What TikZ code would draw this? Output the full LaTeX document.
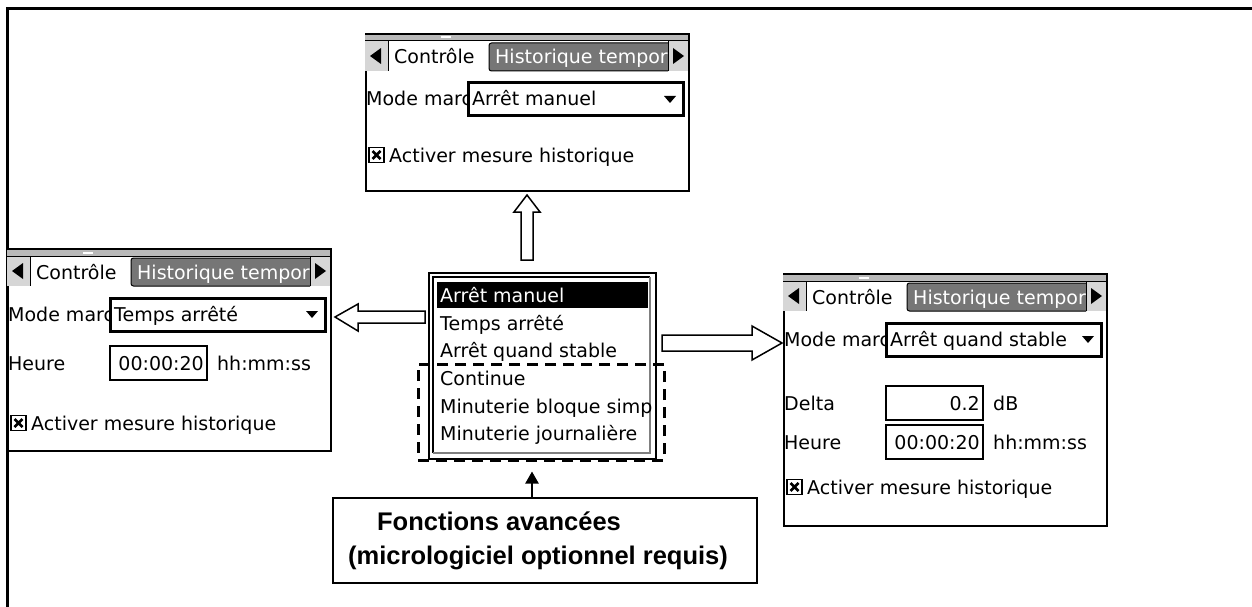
\documentclass[tikz,border=0pt]{standalone}
\usepackage{fontspec}
\newfontfamily\uifont{DejaVu Sans}
\newfontfamily\labfont{Liberation Sans}
\usetikzlibrary{arrows.meta,calc}
\definecolor{tabgray}{RGB}{118,118,118}
\definecolor{boxgray}{RGB}{214,214,214}
\tikzset{
  ui/.style={font=\uifont\fontsize{19}{22}\selectfont, inner sep=0pt, anchor=base west},
  uiw/.style={ui, text=white},
  blockarrow/.style={draw, fill=white, line width=1.5pt, line join=miter},
  lab/.style={font=\labfont\bfseries\fontsize{25.5}{30}\selectfont, inner sep=0pt, anchor=base},
}
% screen frame: #1 x, #2 y, #3 height, #4 name
\newcommand\uiscreen[4]{%
  \begin{scope}[shift={(#1,#2)}]
    \node[draw, line width=1.7pt, fill=white, minimum width=323pt, minimum height=#3pt, inner sep=0pt, anchor=north west] (#4) at (0,0) {};
    \fill[gray!55] (0,0) rectangle (323,8);
    \draw[line width=2.4pt] (0,1) -- (323,1);
    \draw[line width=1pt] (0,8) -- (323,8);
    \fill[white] (76,3.5) rectangle (86,5.5);
    \fill[boxgray] (0,8.5) rectangle (23,38);
    \draw[line width=1pt] (23,8.5) -- (23,38);
    \fill (5,23) -- (16,15) -- (16,31) -- cycle;
    \draw[line width=1pt, fill=tabgray, rounded corners=2.5pt] (303,10) -| (124,38) -- (303,38);
    \fill[boxgray] (303,8.5) rectangle (323,38);
    \draw[line width=1pt] (303,8.5) -- (303,38);
    \fill (319,23) -- (308,15) -- (308,31) -- cycle;
    \node[ui] (#4tab) at (29,31) {Contrôle};
    \begin{scope}
      \clip (124,10) rectangle (303,38);
      \node[uiw] (#4tabb) at (130,31) {Historique tempor};
    \end{scope}
  \end{scope}}
% dropdown: #1 x, #2 y (screen origin), #3 text, #4 name
\newcommand\uidrop[4]{%
  \begin{scope}[shift={(#1,#2)}]
    \node[ui] (#4mode) at (1,73) {Mode marc};
    \draw[line width=3pt, fill=white] (103,50) rectangle (318,83);
    \node[ui] (#4drop) at (107,73) {#3};
    \fill (299,63) -- (311,63) -- (305,70) -- cycle;
  \end{scope}}
% check line: #1 x, #2 y centre, #3 name
\newcommand\uicheck[3]{%
  \begin{scope}[shift={(#1,#2)}]
    \draw[line width=1.3pt] (4,-7.5) rectangle (19,7.5);
    \draw[line width=2.6pt] (7.5,-4) -- (15.5,4) (7.5,4) -- (15.5,-4);
    \node[ui] (#3) at (24,7) {Activer mesure historique};
  \end{scope}}
% field: #1 x, #2 y centre, #3 label, #4 value, #5 unit, #6 name
\newcommand\uifield[6]{%
  \begin{scope}[shift={(#1,#2)}]
    \node[ui] (#6l) at (1,7) {#3};
    \draw[line width=1.3pt] (103,-17) rectangle (200,17);
    \node[ui, anchor=base east] (#6v) at (197,7) {#4};
    \node[ui] (#6u) at (210,7) {#5};
  \end{scope}}

\begin{document}
\begin{tikzpicture}[x=1pt,y=-1pt]
\useasboundingbox (0,0) rectangle (1252,607);
\fill[white] (0,0) rectangle (1252,607);
\draw[line width=3pt] (7,607) -- (7,9) -- (1252,9);

% top screen
\uiscreen{365}{33}{157}{top}
\uidrop{365}{33}{Arrêt manuel}{top}
\uicheck{365}{155}{topchk}

% left screen
\uiscreen{7}{248}{202}{left}
\uidrop{7}{248}{Temps arrêté}{left}
\uifield{7}{363}{Heure}{00:00:20}{hh:mm:ss}{leftheure}
\uicheck{7}{423}{leftchk}

% right screen
\uiscreen{783}{273}{252}{right}
\uidrop{783}{273}{Arrêt quand stable}{right}
\uifield{783}{403}{Delta}{0.2}{dB}{rightdelta}
\uifield{783}{442}{Heure}{00:00:20}{hh:mm:ss}{rightheure}
\uicheck{783}{487}{rightchk}

% middle list
\node[draw, line width=1.6pt, fill=white, minimum width=227pt, minimum height=186pt, inner sep=0pt, anchor=north west] (list) at (428,272) {};
\draw[line width=1.3pt] (433,453) -- (433,277) -- (650,277);
\draw[line width=1.3pt, gray] (650,277) -- (650,453) -- (433,453);
\fill (437,282) rectangle (648,308);
\node[uiw] (i1) at (440,302) {Arrêt manuel};
\node[ui] (i2) at (440,330) {Temps arrêté};
\node[ui] (i3) at (440,357) {Arrêt quand stable};
\node[ui] (i4) at (440,385) {Continue};
\node[ui] (i5) at (440,413) {Minuterie bloque simp};
\node[ui] (i6) at (440,440) {Minuterie journalière};

% dashed group
\node[draw, line width=3pt, dash pattern=on 11pt off 7pt, minimum width=246pt, minimum height=96pt, inner sep=0pt] (adv) at (541,412) {};

% block arrows
\draw[blockarrow] (521,260) -- (521,212) -- (514,212) -- (527,195) -- (540,212) -- (533,212) -- (533,260) -- cycle;
\draw[blockarrow] (425,311) -- (358,311) -- (358,304) -- (335,317) -- (358,331) -- (358,323) -- (425,323) -- cycle;
\draw[blockarrow] (662,335) -- (752,335) -- (752,326) -- (782,343) -- (752,360) -- (752,351) -- (662,351) -- cycle;

% label box
\node[draw, line width=1.8pt, fill=white, minimum width=424pt, minimum height=85pt, inner sep=0pt] (fa) at (545,540.5) {};
\node[lab] (fa1) at (499,530) {Fonctions avancées};
\node[lab] (fa2) at (538,564) {(micrologiciel optionnel requis)};
\draw[line width=2.2pt, shorten >=10pt, -{Triangle[length=12pt,width=13pt]}] (fa.north -| 532,0) -- (adv.south -| 532,0);
\end{tikzpicture}
\end{document}
